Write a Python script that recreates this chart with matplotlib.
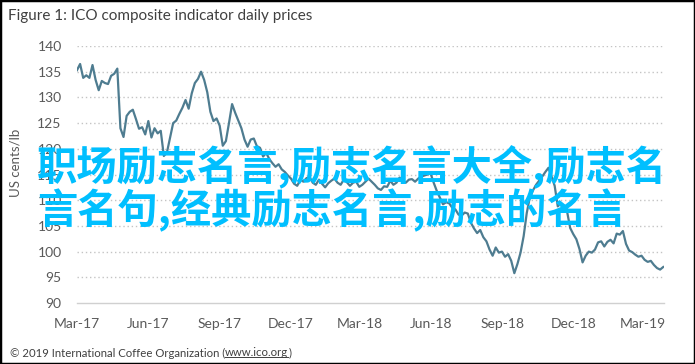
import matplotlib
matplotlib.use("Agg")
import matplotlib.pyplot as plt
from matplotlib.patches import Rectangle
from matplotlib.lines import Line2D
import pandas as pd

# ---- data ----
start_date = "2017-03-01"
values = [
    135.3, 136.5, 133.8, 134.3, 133.8, 136.3, 133.4, 131.4, 133.2, 132.8,
    132.6, 134.2, 134.6, 135.6, 124.0, 122.3, 126.4, 127.2, 127.6, 125.8,
    123.9, 124.2, 122.8, 125.4, 122.2, 124.0, 123.0, 123.5, 118.6, 119.3,
    122.2, 125.0, 125.5, 126.8, 128.0, 129.5, 127.8, 130.8, 132.8, 133.6,
    135.0, 133.4, 131.0, 127.2, 125.4, 125.9, 124.5, 120.6, 121.5, 125.0,
    128.7, 127.0, 125.5, 124.0, 121.8, 120.4, 121.8, 122.0, 120.5, 120.2,
    118.5, 119.2, 118.0, 117.2, 116.5, 117.0, 116.0, 115.5, 114.8, 114.2,
    113.2, 112.8, 114.0, 113.6, 114.3, 114.5, 113.4, 113.0, 114.0, 113.2,
    112.5, 113.3, 113.8, 114.2, 113.4, 113.0, 114.0, 113.5, 112.8, 113.4,
    113.6, 112.6, 113.0, 113.6, 114.2, 113.6, 113.0, 112.3, 112.0, 112.7,
    112.6, 113.8, 113.0, 113.4, 114.4, 113.8, 113.4, 114.0, 114.1, 113.6,
    114.2, 114.6, 114.8, 115.0, 115.2, 113.4, 111.8, 110.5, 109.2, 109.6,
    109.4, 108.5, 108.2, 107.2, 107.0, 107.6, 107.4, 105.6, 104.5, 103.6,
    104.2, 102.8, 102.0, 100.4, 99.2, 100.8, 99.8, 100.0, 99.0, 99.5,
    98.2, 95.8, 97.6, 99.8, 103.0, 107.5, 110.6, 111.9, 113.0, 113.8,
    114.6, 115.5, 116.3, 114.6, 112.8, 108.8, 109.4, 108.8, 107.8, 104.6,
    103.4, 102.4, 100.5, 97.9, 99.2, 100.0, 99.8, 100.4, 101.8, 102.0,
    101.0, 101.9, 102.3, 101.6, 103.5, 103.3, 104.0, 101.5, 100.2, 99.9,
    99.4, 99.0, 99.2, 98.4, 98.0, 98.2, 97.4, 96.8, 96.5, 97.0,
]
dates = pd.date_range(start_date, periods=len(values), freq="4D")

tick_dates = ["2017-03-01", "2017-06-01", "2017-09-01", "2017-12-01", "2018-03-01",
              "2018-06-01", "2018-09-01", "2018-12-01", "2019-03-01"]
tick_labels = ["Mar-17", "Jun-17", "Sep-17", "Dec-17", "Mar-18",
               "Jun-18", "Sep-18", "Dec-18", "Mar-19"]
y_ticks = [90, 95, 100, 105, 110, 115, 120, 125, 130, 135, 140]

title = "Figure 1: ICO composite indicator daily prices"
ylabel = "US cents/lb"
footer_prefix = "© 2019 International Coffee Organization ("
footer_url = "www.ico.org"
footer_suffix = ")"
overlay_lines = ["职场励志名言,励志名言大全,励志名", "言名句,经典励志名言,励志的名言"]

# ---- figure ----
W, H = 695, 364
fig = plt.figure(figsize=(W / 100, H / 100), dpi=100)
fig.patch.set_facecolor("white")
ax = fig.add_axes([77 / W, 1 - 303 / H, (664 - 77) / W, (303 - 46) / H])

text_col = "#595959"
ax.plot(dates, values, color="#4e7c90", lw=1.6, solid_joinstyle="round")

ax.set_ylim(90, 140)
ax.set_xlim(pd.Timestamp("2017-03-01"), pd.Timestamp("2019-03-28"))
ax.set_yticks(y_ticks)
ax.set_yticklabels([str(v) for v in y_ticks])
ax.set_xticks([pd.Timestamp(d) for d in tick_dates])
ax.set_xticklabels(tick_labels)

for v in y_ticks[1:]:
    ax.axhline(v, color="#c4c4c4", lw=1.0, ls=(0, (1, 2)), zorder=0)
for s in ["top", "right", "left"]:
    ax.spines[s].set_visible(False)
ax.spines["bottom"].set_color("#d0d0d0")
ax.spines["bottom"].set_linewidth(1.0)
ax.tick_params(axis="both", length=0, colors=text_col, labelsize=10)
ax.tick_params(axis="y", pad=11)
ax.tick_params(axis="x", pad=11)
for lab in ax.get_xticklabels() + ax.get_yticklabels():
    lab.set_fontfamily("Lato")

fig.text(15 / W, 1 - 163 / H, ylabel, rotation=90, ha="center", va="center",
         color=text_col, fontsize=9.5, family="Lato")
fig.text(8 / W, 1 - 16 / H, title, ha="left", va="center", color="#404040",
         fontsize=11, family="Lato")

# footer with underlined url
fy = 1 - 353 / H
t1 = fig.text(10 / W, fy, footer_prefix, ha="left", va="center", color="#404040",
              fontsize=8.2, family="Lato")
fig.canvas.draw()
r = fig.canvas.get_renderer()
bb1 = t1.get_window_extent(r)
t2 = fig.text(bb1.x1 / W, fy, footer_url, ha="left", va="center", color="#404040",
              fontsize=8.2, family="Lato")
bb2 = t2.get_window_extent(r)
fig.text(bb2.x1 / W, fy, footer_suffix, ha="left", va="center", color="#404040",
         fontsize=8.2, family="Lato")
uy = (bb2.y0 + 1.5) / H
fig.add_artist(Line2D([bb2.x0 / W, bb2.x1 / W], [uy, uy], transform=fig.transFigure,
                      color="#404040", lw=0.7))

for i, line in enumerate(overlay_lines):
    fig.text(37 / W, 1 - (167 + 44 * i) / H, line, ha="left", va="center",
             color="#00bfff", fontsize=29, fontweight="bold",
             family=["Noto Sans CJK SC", "DejaVu Sans"])

fig.add_artist(Rectangle((0, 0), 1, 1, transform=fig.transFigure, fill=False,
                         edgecolor="black", lw=2.5))

fig.savefig("out.png", dpi=100)
